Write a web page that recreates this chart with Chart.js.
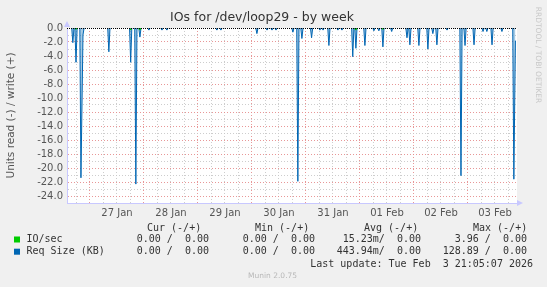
<!DOCTYPE html>
<html>
<head>
<meta charset="utf-8">
<script src="https://cdn.jsdelivr.net/npm/chart.js@4/dist/chart.umd.min.js"></script>
<style>
  html, body { margin: 0; padding: 0; background: #f0f0f0; }
  #wrap { width: 547px; height: 287px; position: relative; }
</style>
</head>
<body>
<div id="wrap"><canvas id="chart"></canvas></div>
<script>
// hours since 27 Jan 00:00, read side (negative) of Req Size (KB)
const spikeHours = [-7.6, -6.2, -4.0, -3.1, 8.4, 18.1, 20.4, 22.2, 26.2, 32.0, 34.2, 56.4, 58.2,
  74.2, 78.7, 80.9, 82.7, 90.2, 92.4, 94.2, 98.5, 102.2, 103.6, 106.2, 110.2, 112.0, 116.8, 118.2,
  122.2, 126.2, 128.4, 130.2, 134.1, 140.9, 142.2, 146.2, 150.2, 152.4, 154.2, 158.7, 164.9, 166.7,
  170.7, 174.7, 176.4, 178.7, 183.1, 188.4, 189.1];
const reqSizeRead = [-2.1, -4.9, -21.4, -1.0, -3.4, -4.9, -22.3, -1.3, -0.3, -0.3, -0.3, -0.3, -0.3,
  -0.8, -0.3, -0.3, -0.3, -0.6, -21.9, -1.5, -1.4, -0.3, -0.3, -2.5, -0.3, -0.3, -4.1, -2.9,
  -2.5, -0.4, -0.4, -2.7, -0.5, -1.4, -2.4, -2.5, -3.0, -0.8, -2.4, -0.3, -21.1, -2.5,
  -2.4, -0.5, -0.5, -2.4, -0.5, -21.6, -1.8];

// IO/sec read side, mostly hidden behind the blue
const ioHours = [-6.2, 18.1, 22.2, 118.2, 130.2];
const ioRead = [-0.2, -0.3, -0.3, -0.3, -0.2];

const dayLabels = ['27 Jan', '28 Jan', '29 Jan', '30 Jan', '31 Jan', '01 Feb', '02 Feb', '03 Feb'];
const xMin = -10.2;
const xMax = 189.8;

const green = '#00cc00';
const blue = '#0066b3';

function buildSeries(hours, values, endOpen) {
    const pts = [{ x: xMin, y: 0 }];
    for (let i = 0; i < hours.length; i++) {
        const t = hours[i];
        if (i === 0 || t - hours[i - 1] > 1) pts.push({ x: t - 0.5, y: 0 });
        pts.push({ x: t, y: values[i] });
        const last = i === hours.length - 1;
        if (last ? !endOpen : hours[i + 1] - t > 1) pts.push({ x: t + 0.5, y: 0 });
    }
    if (!endOpen) pts.push({ x: xMax, y: 0 });
    return pts;
}

// hide the flat stretches at zero so the black zero rule shows through
const hideFlat = col => c => (c.p0.parsed.y === 0 && c.p1.parsed.y === 0 ? 'rgba(0,0,0,0)' : col);

const legendRows = [
    { color: green, name: 'IO/sec', cur: '0.00 /  0.00', min: '0.00 /  0.00', avg: '15.23m/  0.00', max: '3.96 /  0.00' },
    { color: blue, name: 'Req Size (KB)', cur: '0.00 /  0.00', min: '0.00 /  0.00', avg: '443.94m/  0.00', max: '128.89 /  0.00' }
];

const munin = {
    id: 'munin',
    beforeDraw(chart) {
        const { ctx, chartArea: a } = chart;
        ctx.save();
        ctx.fillStyle = '#f0f0f0';
        ctx.fillRect(0, 0, chart.width, chart.height);
        ctx.fillStyle = '#ffffff';
        ctx.fillRect(a.left, a.top, a.right - a.left, a.bottom - a.top);
        ctx.restore();
    },
    afterDatasetsDraw(chart) {
        const { ctx, chartArea: a } = chart;
        const y0 = Math.round(chart.scales.y.getPixelForValue(0)) + 0.5;
        ctx.save();
        ctx.strokeStyle = '#000';
        ctx.lineWidth = 1;
        ctx.setLineDash([1, 1]);
        ctx.beginPath();
        ctx.moveTo(a.left, y0);
        ctx.lineTo(a.right, y0);
        ctx.stroke();
        ctx.restore();
    },
    afterDraw(chart) {
        const { ctx, chartArea: a } = chart;
        ctx.save();
        // axis arrows
        ctx.fillStyle = '#c8c8ff';
        ctx.beginPath();
        ctx.moveTo(a.left - 3, a.top - 1);
        ctx.lineTo(a.left + 3, a.top - 1);
        ctx.lineTo(a.left, a.top - 7);
        ctx.fill();
        ctx.beginPath();
        ctx.moveTo(a.right, a.bottom - 3);
        ctx.lineTo(a.right, a.bottom + 3);
        ctx.lineTo(a.right + 6, a.bottom);
        ctx.fill();

        // title
        ctx.fillStyle = '#333';
        ctx.font = '12.5px "DejaVu Sans"';
        ctx.textAlign = 'center';
        ctx.textBaseline = 'middle';
        ctx.fillText('IOs for /dev/loop29 - by week', 262, 18);

        // y title
        ctx.save();
        ctx.translate(11, 115.5);
        ctx.rotate(-Math.PI / 2);
        ctx.fillStyle = '#555';
        ctx.font = '10.5px "DejaVu Sans"';
        ctx.fillText('Units read (-) / write (+)', 0, 0);
        ctx.restore();

        // rrdtool credit
        ctx.save();
        ctx.translate(538, 55);
        ctx.rotate(Math.PI / 2);
        ctx.fillStyle = '#c8c8c8';
        ctx.font = '7.5px "DejaVu Sans"';
        ctx.fillText('RRDTOOL / TOBI OETIKER', 0, 0);
        ctx.restore();

        // legend
        ctx.font = '10px "DejaVu Sans Mono"';
        ctx.fillStyle = '#333';
        ctx.textAlign = 'left';
        ctx.fillText('Cur (-/+)', 147, 228);
        ctx.fillText('Min (-/+)', 255, 228);
        ctx.fillText('Avg (-/+)', 364, 228);
        ctx.fillText('Max (-/+)', 473, 228);
        legendRows.forEach((r, i) => {
            const y = 239.5 + i * 12.2;
            ctx.fillStyle = r.color;
            ctx.fillRect(14, y - 3, 6, 6);
            ctx.fillStyle = '#333';
            ctx.textAlign = 'left';
            ctx.fillText(r.name, 26.5, y);
            ctx.textAlign = 'right';
            ctx.fillText(r.cur, 209, y);
            ctx.fillText(r.min, 315, y);
            ctx.fillText(r.avg, 421, y);
            ctx.fillText(r.max, 527, y);
        });
        ctx.textAlign = 'right';
        ctx.fillText('Last update: Tue Feb  3 21:05:07 2026', 533, 264);

        ctx.textAlign = 'left';
        ctx.fillStyle = '#b8b8b8';
        ctx.font = '7.5px "DejaVu Sans"';
        ctx.fillText('Munin 2.0.75', 248, 276.5);
        ctx.restore();
    }
};

new Chart(document.getElementById('chart'), {
    type: 'line',
    data: {
        datasets: [
            {
                label: 'IO/sec',
                data: buildSeries(ioHours, ioRead, false),
                borderColor: green,
                backgroundColor: 'rgba(0,204,0,0.3)',
                segment: { borderColor: hideFlat(green) },
                borderWidth: 1,
                pointRadius: 0,
                fill: 'origin',
                tension: 0,
                order: 0
            },
            {
                label: 'Req Size (KB)',
                data: buildSeries(spikeHours, reqSizeRead, true),
                borderColor: blue,
                backgroundColor: 'rgba(0,102,179,0.35)',
                segment: { borderColor: hideFlat(blue) },
                borderWidth: 1,
                pointRadius: 0,
                fill: 'origin',
                tension: 0,
                order: 1
            }
        ]
    },
    options: {
        responsive: true,
        maintainAspectRatio: false,
        animation: false,
        events: [],
        layout: { padding: { top: 28, left: 0, right: 30, bottom: 0 } },
        plugins: { legend: { display: false }, title: { display: false }, tooltip: { enabled: false } },
        scales: {
            x: {
                type: 'linear',
                min: xMin,
                max: xMax,
                afterFit: s => { s.height = 84; },
                afterBuildTicks: s => {
                    const t = [];
                    for (let v = -6; v <= xMax; v += 6) t.push({ value: v });
                    s.ticks = t;
                },
                ticks: {
                    autoSkip: false,
                    maxRotation: 0,
                    padding: 4,
                    color: '#555',
                    font: { family: 'DejaVu Sans', size: 10 },
                    callback: v => (((v % 24) + 24) % 24 === 12 ? dayLabels[Math.floor(v / 24)] : '')
                },
                grid: {
                    drawTicks: false,
                    color: c => (c.tick && ((c.tick.value % 24) + 24) % 24 === 0 ? 'rgba(230,140,140,0.9)' : 'rgba(200,200,200,0.9)'),
                    lineWidth: 1
                },
                border: { color: '#c8c8ff', dash: [1, 2] }
            },
            y: {
                min: -25,
                max: 0,
                afterFit: s => { s.width = 67; },
                afterBuildTicks: s => {
                    const t = [];
                    for (let v = -25; v <= 0; v += 1) t.push({ value: v });
                    s.ticks = t;
                },
                ticks: {
                    autoSkip: false,
                    padding: 4,
                    color: '#555',
                    font: { family: 'DejaVu Sans', size: 10 },
                    callback: v => (v % 2 === 0 ? v.toFixed(1) : '')
                },
                grid: {
                    drawTicks: false,
                    color: c => {
                        if (!c.tick) return 'rgba(200,200,200,0.9)';
                        if (c.tick.value === 0) return 'rgba(0,0,0,0)';
                        return c.tick.value % 2 === 0 ? 'rgba(230,140,140,0.9)' : 'rgba(200,200,200,0.9)';
                    },
                    lineWidth: 1
                },
                border: { color: '#c8c8ff', dash: [1, 2] }
            }
        }
    },
    plugins: [munin]
});
</script>
</body>
</html>
